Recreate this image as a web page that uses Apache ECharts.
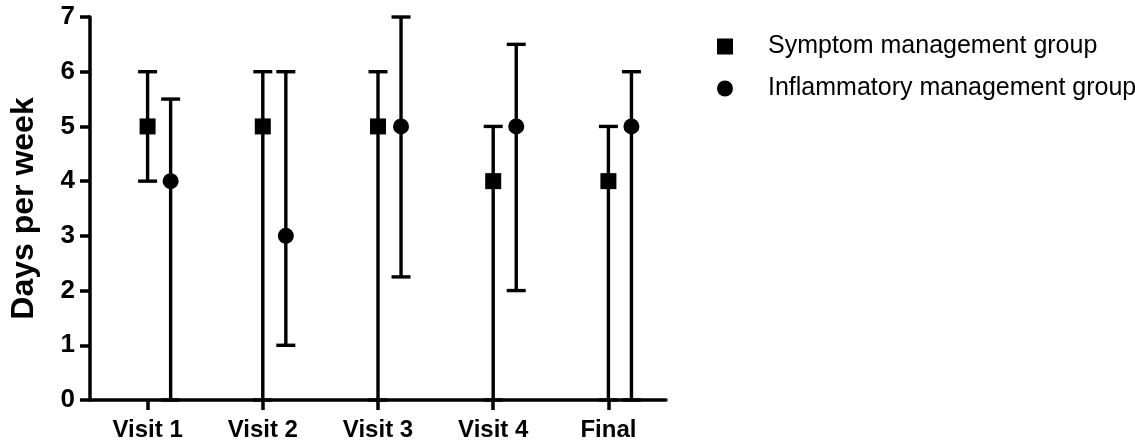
<!DOCTYPE html>
<html>
<head>
<meta charset="utf-8">
<script src="https://cdn.jsdelivr.net/npm/echarts@6/dist/echarts.min.js"></script>
<style>
html,body{margin:0;padding:0;background:#fff;}
#chart{width:1135px;height:443px;}
</style>
</head>
<body>
<div id="chart"></div>
<script>
const categories = ['Visit 1', 'Visit 2', 'Visit 3', 'Visit 4', 'Final'];
const yTicks = [0, 1, 2, 3, 4, 5, 6, 7];
const seriesNames = ['Symptom management group', 'Inflammatory management group'];

const symptomValue = [5, 5, 5, 4, 4];
const symptomLow   = [4, 0, 0, 0, 0];
const symptomHigh  = [6, 6, 6, 5, 5];

const inflamValue = [4, 3, 5, 5, 5];
const inflamLow   = [0, 1, 2.25, 2, 0];
const inflamHigh  = [5.5, 6, 7, 6.5, 6];

const FONT = "'Liberation Sans', Arial, sans-serif";

function buildData(vals, lows, highs) {
  return categories.map((c, i) => [i, vals[i], lows[i], highs[i]]);
}

function makeRender(shape, offsetFrac) {
  return function (params, api) {
    const cat = api.value(0);
    const band = api.size([1, 0])[0];
    const dx = band * offsetFrac;
    const pMean = api.coord([cat, api.value(1)]);
    const pLow = api.coord([cat, api.value(2)]);
    const pHigh = api.coord([cat, api.value(3)]);
    const x = pMean[0] + dx;
    const capHalf = 9.5;
    const ls = { stroke: '#000', lineWidth: 3.4 };
    const children = [
      { type: 'line', shape: { x1: x, y1: pLow[1], x2: x, y2: pHigh[1] }, style: ls },
      { type: 'line', shape: { x1: x - capHalf, y1: pHigh[1], x2: x + capHalf, y2: pHigh[1] }, style: ls },
      { type: 'line', shape: { x1: x - capHalf, y1: pLow[1], x2: x + capHalf, y2: pLow[1] }, style: ls }
    ];
    if (shape === 'rect') {
      children.push({ type: 'rect', shape: { x: x - 8, y: pMean[1] - 8, width: 16, height: 16 }, style: { fill: '#000' } });
    } else {
      children.push({ type: 'circle', shape: { cx: x, cy: pMean[1], r: 8 }, style: { fill: '#000' } });
    }
    return { type: 'group', children: children };
  };
}

const chart = echarts.init(document.getElementById('chart'), null, { renderer: 'canvas' });
chart.setOption({
  animation: false,
  backgroundColor: '#fff',
  grid: { left: 89, right: 469, top: 17, bottom: 43, containLabel: false },
  legend: {
    orient: 'vertical',
    left: 712,
    top: 29,
    itemWidth: 16,
    itemHeight: 16,
    itemGap: 17,
    data: [
      { name: seriesNames[0], icon: 'rect' },
      { name: seriesNames[1], icon: 'circle' }
    ],
    textStyle: { fontFamily: FONT, fontSize: 25, color: '#000', lineHeight: 24, padding: [0, 0, 0, 30] },
    selectedMode: false
  },
  xAxis: {
    type: 'category',
    data: categories,
    boundaryGap: true,
    axisLine: { show: true, lineStyle: { color: '#000', width: 3.5 } },
    axisTick: { show: true, alignWithLabel: true, length: 10, lineStyle: { color: '#000', width: 3.5 } },
    axisLabel: { fontFamily: FONT, fontSize: 24, fontWeight: 'bold', color: '#000', margin: 18 },
    splitLine: { show: false }
  },
  yAxis: {
    type: 'value',
    min: yTicks[0],
    max: yTicks[yTicks.length - 1],
    interval: 1,
    name: 'Days per week',
    nameLocation: 'middle',
    nameRotate: 90,
    nameGap: 50,
    nameTextStyle: { fontFamily: FONT, fontSize: 32, fontWeight: 'bold', color: '#000' },
    axisLine: { show: true, lineStyle: { color: '#000', width: 3.5 } },
    axisTick: { show: true, length: 10, lineStyle: { color: '#000', width: 3.5 } },
    axisLabel: { fontFamily: FONT, fontSize: 26, fontWeight: 'bold', color: '#000', margin: 15 },
    splitLine: { show: false }
  },
  series: [
    {
      name: seriesNames[0],
      type: 'custom',
      itemStyle: { color: '#000' },
      renderItem: makeRender('rect', 0),
      encode: { x: 0, y: [1, 2, 3] },
      data: buildData(symptomValue, symptomLow, symptomHigh),
      z: 1
    },
    {
      name: seriesNames[1],
      type: 'custom',
      itemStyle: { color: '#000' },
      renderItem: makeRender('circle', 0.2),
      encode: { x: 0, y: [1, 2, 3] },
      data: buildData(inflamValue, inflamLow, inflamHigh),
      z: 1
    }
  ]
});
</script>
</body>
</html>
